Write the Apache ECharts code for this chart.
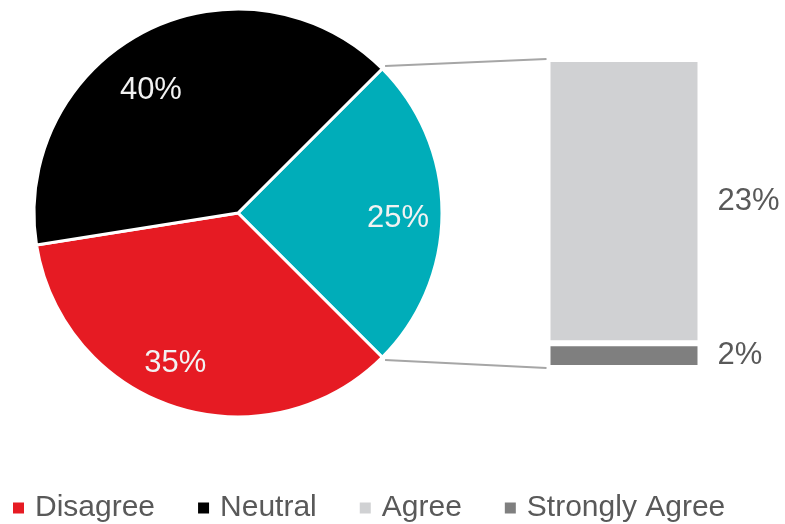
<!DOCTYPE html>
<html>
<head>
<meta charset="utf-8">
<style>
  html, body { margin: 0; padding: 0; background: #ffffff; }
  #chart { width: 785px; height: 524px; }
</style>
<script src="https://cdn.jsdelivr.net/npm/echarts@6/dist/echarts.min.js"></script>
</head>
<body>
<div id="chart"></div>
<script>
// Survey responses: pie of the three main groups, with the agree group split out in a bar.
const legendNames = ['Disagree', 'Neutral', 'Agree', 'Strongly Agree'];
const pieNames = ['Agree (all)', 'Disagree', 'Neutral'];
const pieValues = [25, 35, 40];
const barCategories = ['Agree (all)'];
const barSeriesNames = ['Strongly Agree', 'Agree'];
const stronglyAgreeValues = [2];
const agreeValues = [23];

const FONT = "'Liberation Sans', Arial, sans-serif";
const TEXT_GRAY = '#595959';
const pieColors = { 'Agree (all)': '#00adb9', 'Disagree': '#e61b23', 'Neutral': '#000000' };
const barColors = { 'Strongly Agree': '#7f7f7f', 'Agree': '#d0d1d3' };
// small nudges for the in-slice percentage labels
const labelNudge = { 'Agree (all)': [-1, 5], 'Disagree': [-13, -3], 'Neutral': [-14, 21] };

const PIE_CENTER = [238, 213];
const PIE_R = 204;
const START_ANGLE = 45;
const GRID_LEFT = 547.5;
const GRID_WIDTH = 153;
const GRID_TOP = 59;
const GRID_HEIGHT = 309;

const chart = echarts.init(document.getElementById('chart'), null, { renderer: 'canvas' });

const pieData = pieNames.map((n, i) => ({
  name: n,
  value: pieValues[i],
  itemStyle: { color: pieColors[n] }
}));
const pieLabelData = pieNames.map((n, i) => ({
  name: n,
  value: pieValues[i],
  label: { offset: labelNudge[n] }
}));

const barValuesByName = { 'Strongly Agree': stronglyAgreeValues, 'Agree': agreeValues };

const option = {
  animation: false,
  backgroundColor: '#ffffff',
  textStyle: { fontFamily: FONT },
  legend: {
    data: legendNames,
    left: 6,
    top: 486,
    icon: 'rect',
    itemWidth: 13,
    itemHeight: 13,
    itemGap: 41,
    selectedMode: false,
    textStyle: {
      fontFamily: FONT,
      fontSize: 30,
      color: TEXT_GRAY,
      lineHeight: 34,
      padding: [0, 0, 0, 5]
    }
  },
  grid: { left: GRID_LEFT, top: GRID_TOP, width: GRID_WIDTH, height: GRID_HEIGHT },
  xAxis: {
    type: 'category',
    data: barCategories,
    show: false
  },
  yAxis: {
    type: 'value',
    min: 0,
    max: 25,
    show: false
  },
  series: [
    {
      type: 'pie',
      center: PIE_CENTER,
      radius: [0, PIE_R],
      startAngle: START_ANGLE,
      clockwise: true,
      silent: true,
      label: { show: false },
      labelLine: { show: false },
      itemStyle: { borderColor: '#ffffff', borderWidth: 3 },
      emphasis: { disabled: true },
      data: pieData
    },
    {
      type: 'pie',
      center: PIE_CENTER,
      radius: [112, PIE_R],
      startAngle: START_ANGLE,
      clockwise: true,
      silent: true,
      itemStyle: { color: 'rgba(0,0,0,0)' },
      label: {
        show: true,
        position: 'inside',
        formatter: '{c}%',
        fontFamily: FONT,
        fontSize: 31,
        color: '#f2f2f2'
      },
      labelLine: { show: false },
      emphasis: { disabled: true },
      data: pieLabelData
    },
    ...barSeriesNames.map(n => ({
      type: 'bar',
      name: n,
      stack: 'agree',
      barWidth: '100%',
      silent: true,
      itemStyle: { color: barColors[n], borderColor: '#ffffff', borderWidth: 3 },
      label: {
        show: true,
        position: 'right',
        distance: 17,
        formatter: '{c}%',
        fontFamily: FONT,
        fontSize: 31,
        color: TEXT_GRAY
      },
      emphasis: { disabled: true },
      data: barValuesByName[n]
    }))
  ]
};

chart.setOption(option);

// Connector lines from the split-out slice edges to the ends of the stacked bar.
const total = pieValues.reduce((a, b) => a + b, 0);
const edgeAngles = [START_ANGLE, START_ANGLE - 360 * pieValues[0] / total];
const barTotal = stronglyAgreeValues[0] + agreeValues[0];
const barEnds = [
  chart.convertToPixel({ xAxisIndex: 0, yAxisIndex: 0 }, [0, barTotal])[1],
  chart.convertToPixel({ xAxisIndex: 0, yAxisIndex: 0 }, [0, 0])[1]
];
const connectors = edgeAngles.map((a, i) => {
  const rad = a * Math.PI / 180;
  const r = PIE_R + 4;
  return {
    type: 'line',
    silent: true,
    shape: {
      x1: PIE_CENTER[0] + r * Math.cos(rad),
      y1: PIE_CENTER[1] - r * Math.sin(rad),
      x2: GRID_LEFT - 1,
      y2: barEnds[i]
    },
    style: { stroke: '#a6a6a6', lineWidth: 2 }
  };
});
chart.setOption({ graphic: connectors });
</script>
</body>
</html>
